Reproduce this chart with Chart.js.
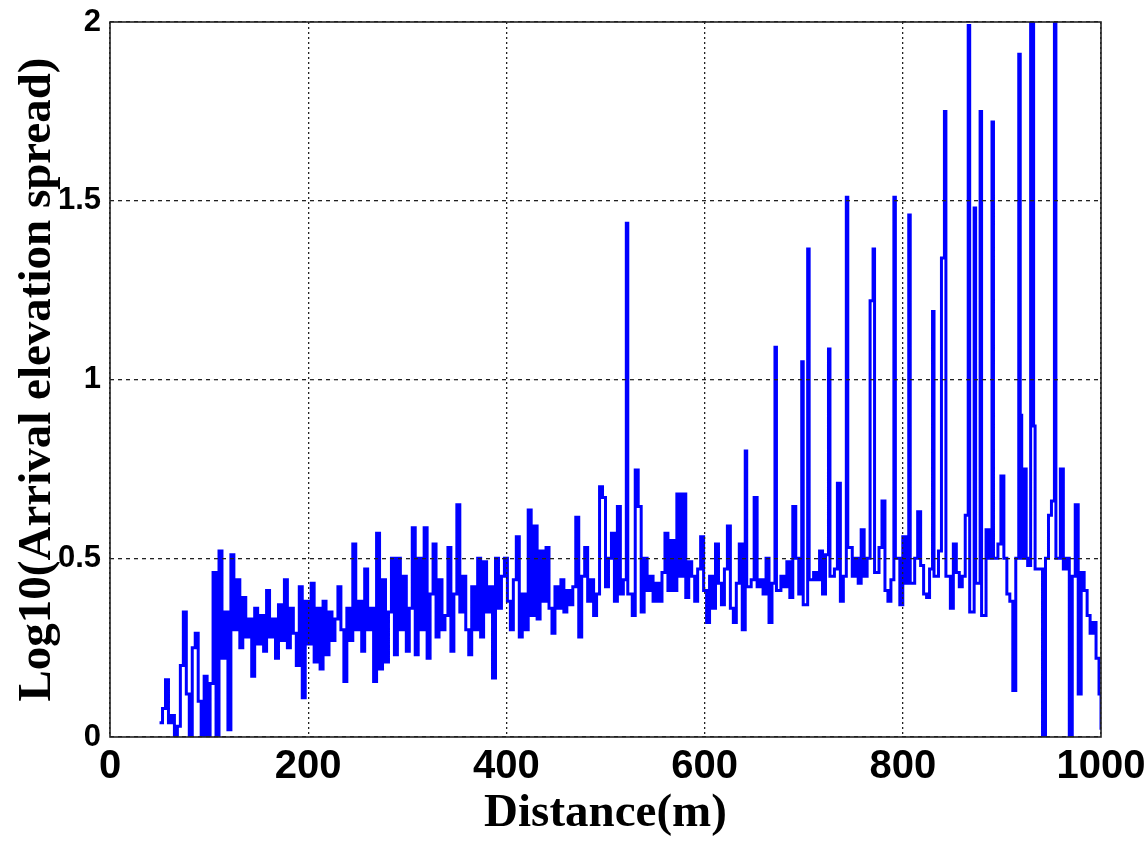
<!DOCTYPE html>
<html>
<head>
<meta charset="utf-8">
<title>Log10(Arrival elevation spread) vs Distance</title>
<script src="https://cdn.jsdelivr.net/npm/chart.js@4.4.1/dist/chart.umd.min.js"></script>
<style>
  html, body { margin: 0; padding: 0; background: #fff; }
  #wrap { width: 1147px; height: 843px; }
</style>
</head>
<body>
<div id="wrap"><canvas id="spreadChart" width="1147" height="843"></canvas></div>
<script>
// distance along the track (m); every 3 m, plus a short return after each tall spike
const distance = [
    50, 53, 56, 59, 62, 65, 68, 71, 74, 77,
    80, 83, 86, 89, 92, 95, 98, 101, 104, 107,
    110, 113, 116, 119, 122, 125, 128, 131, 134, 137,
    140, 143, 146, 149, 152, 155, 158, 161, 164, 167,
    170, 173, 176, 179, 182, 185, 188, 191, 194, 197,
    200, 203, 206, 209, 212, 215, 218, 221, 224, 227,
    230, 233, 236, 239, 242, 245, 248, 251, 254, 257,
    260, 263, 266, 269, 272, 275, 278, 281, 284, 287,
    290, 293, 296, 299, 302, 305, 308, 311, 314, 317,
    320, 323, 326, 329, 332, 335, 338, 341, 344, 347,
    350, 353, 356, 359, 362, 365, 368, 371, 374, 377,
    380, 383, 386, 389, 392, 395, 398, 401, 404, 407,
    410, 413, 416, 419, 422, 425, 428, 431, 434, 437,
    440, 443, 446, 449, 452, 455, 458, 461, 464, 467,
    470, 473, 476, 479, 482, 485, 488, 491, 494, 497,
    500, 503, 506, 509, 512, 515, 518, 521, 522.5, 524, 527,
    530, 533, 536, 539, 542, 545, 548, 551, 554, 557,
    560, 563, 566, 569, 572, 575, 578, 581, 584, 587,
    590, 593, 596, 599, 602, 605, 608, 611, 614, 617,
    620, 623, 626, 629, 632, 635, 638, 641, 642.5, 644, 647,
    650, 653, 656, 659, 662, 665, 668, 671, 672.5, 674, 677,
    680, 683, 686, 689, 692, 695, 698, 699.5, 701, 704, 705.5, 707,
    710, 713, 716, 719, 722, 725, 726.5, 728, 731, 734, 737,
    740, 743, 744.5, 746, 749, 752, 755, 758, 761, 764, 767,
    770, 771.5, 773, 776, 779, 782, 785, 788, 791, 792.5, 794, 797,
    800, 803, 806, 807.5, 809, 812, 815, 818, 821, 824, 827,
    830, 831.5, 833, 836, 839, 842, 843.5, 845, 848, 851, 854, 857,
    860, 863, 866, 867.5, 869, 872, 873.5, 875, 878, 879.5, 881, 884, 887,
    890, 891.5, 893, 896, 899, 902, 905, 908, 911, 914, 917, 918.5,
    920, 923, 924.5, 926, 929, 932, 933.5, 935, 938, 941, 944, 947,
    950, 953, 954.5, 956, 959, 962, 965, 968, 971, 974, 977,
    980, 983, 986, 989, 992, 995, 998, 1000
];

// log10 of arrival elevation spread
const spread = [
    0.04, 0.08, 0.16, 0.04, 0.06, 0.0, 0.03, 0.2, 0.35, 0.12,
    0.0, 0.25, 0.29, 0.1, 0.0, 0.17, 0.0, 0.15, 0.46, 0.0,
    0.52, 0.22, 0.35, 0.02, 0.51, 0.3, 0.44, 0.25, 0.39, 0.28,
    0.33, 0.17, 0.36, 0.26, 0.34, 0.24, 0.41, 0.28, 0.33, 0.22,
    0.37, 0.27, 0.44, 0.25, 0.36, 0.29, 0.2, 0.42, 0.11, 0.38,
    0.26, 0.43, 0.21, 0.36, 0.19, 0.38, 0.23, 0.35, 0.27, 0.33,
    0.42, 0.3, 0.155, 0.36, 0.27, 0.54, 0.3, 0.38, 0.24, 0.47,
    0.3, 0.36, 0.155, 0.57, 0.19, 0.44, 0.21, 0.35, 0.5, 0.23,
    0.5, 0.3, 0.45, 0.24, 0.36, 0.585, 0.23, 0.5, 0.3, 0.585,
    0.22, 0.4, 0.54, 0.28, 0.44, 0.3, 0.34, 0.53, 0.24, 0.4,
    0.65, 0.35, 0.45, 0.3, 0.23, 0.42, 0.3, 0.5, 0.28, 0.49,
    0.35, 0.42, 0.165, 0.5, 0.36, 0.45, 0.5, 0.38, 0.3, 0.44,
    0.56, 0.28, 0.4, 0.3, 0.635, 0.34, 0.59, 0.33, 0.52, 0.38,
    0.53, 0.36, 0.29, 0.42, 0.36, 0.44, 0.35, 0.41, 0.37, 0.42,
    0.615, 0.28, 0.45, 0.53, 0.38, 0.44, 0.34, 0.4, 0.7, 0.67,
    0.42, 0.5, 0.57, 0.38, 0.645, 0.4, 0.44, 1.437, 0.4, 0.4, 0.34,
    0.747, 0.645, 0.35, 0.5, 0.41, 0.45, 0.38, 0.43, 0.38, 0.46,
    0.57, 0.41, 0.55, 0.41, 0.68, 0.45, 0.68, 0.39, 0.49, 0.45,
    0.38, 0.47, 0.56, 0.41, 0.32, 0.45, 0.36, 0.54, 0.43, 0.37,
    0.47, 0.59, 0.36, 0.32, 0.43, 0.54, 0.3, 0.8, 0.42, 0.42, 0.44,
    0.67, 0.42, 0.44, 0.4, 0.5, 0.32, 0.43, 1.09, 0.41, 0.41, 0.45,
    0.42, 0.49, 0.39, 0.645, 0.5, 0.4, 1.05, 0.37, 0.37, 1.365, 0.44, 0.44,
    0.46, 0.44, 0.52, 0.4, 0.51, 1.085, 0.45, 0.45, 0.47, 0.71, 0.38,
    0.45, 1.51, 0.53, 0.53, 0.45, 0.5, 0.43, 0.58, 0.45, 0.5, 1.22,
    1.365, 0.46, 0.46, 0.53, 0.66, 0.41, 0.38, 0.44, 1.51, 0.5, 0.5, 0.37,
    0.56, 0.43, 1.46, 0.43, 0.43, 0.5, 0.63, 0.48, 0.4, 0.39, 0.47,
    1.19, 0.45, 0.45, 0.52, 1.34, 1.75, 0.45, 0.45, 0.36, 0.54, 0.46, 0.42,
    0.45, 0.62, 1.99, 0.35, 0.35, 1.48, 0.43, 0.43, 1.75, 0.34, 0.34, 0.58, 0.5,
    1.72, 0.5, 0.5, 0.54, 0.73, 0.5, 0.4, 0.38, 0.13, 0.5, 1.91, 0.9,
    0.5, 0.75, 0.5, 0.48, 2.05, 0.87, 0.47, 0.47, 0.47, 0.0, 0.5, 0.62,
    0.66, 2.05, 0.5, 0.5, 0.75, 0.47, 0.5, 0.0, 0.45, 0.65, 0.12,
    0.46, 0.41, 0.34, 0.29, 0.32, 0.22, 0.12, 0.02
];

const xTicks = [0, 200, 400, 600, 800, 1000];
const yTicks = [0, 0.5, 1, 1.5, 2];

const points = distance.map((d, i) => ({ x: d, y: spread[i] }));

// MATLAB style box round the plot area
const frameBox = {
    id: 'frameBox',
    afterDraw(chart) {
        const { ctx, chartArea: a } = chart;
        ctx.save();
        ctx.strokeStyle = '#222';
        ctx.lineWidth = 1.6;
        ctx.setLineDash([]);
        ctx.strokeRect(a.left, a.top, a.right - a.left, a.bottom - a.top);
        ctx.restore();
    }
};

new Chart(document.getElementById('spreadChart'), {
    type: 'line',
    data: {
        datasets: [{
            data: points,
            borderColor: '#0000ff',
            borderWidth: 3,
            pointRadius: 0,
            stepped: true,
            spanGaps: false,
            tension: 0
        }]
    },
    options: {
        responsive: false,
        animation: false,
        layout: { padding: { left: 0, right: 46, top: 22, bottom: 0 } },
        plugins: { legend: { display: false }, tooltip: { enabled: false } },
        scales: {
            x: {
                type: 'linear',
                min: 0,
                max: 1000,
                afterFit: s => { s.height = 106; s.paddingLeft = 0; s.paddingRight = 0; },
                afterBuildTicks: s => { s.ticks = xTicks.map(v => ({ value: v })); },
                ticks: {
                    padding: 6,
                    maxRotation: 0,
                    color: '#000',
                    font: { family: "'Liberation Sans', Arial, sans-serif", size: 40, weight: 'bold' },
                    callback: v => String(v)
                },
                grid: { color: '#222', lineWidth: 1.3, drawTicks: false, z: 1 },
                border: { display: false, dash: [2, 3] },
                title: {
                    display: true,
                    text: 'Distance(m)',
                    color: '#000',
                    font: { family: "'Liberation Serif', serif", size: 47, weight: 'bold', lineHeight: 1.2 },
                    padding: { top: 0, bottom: 1 }
                }
            },
            y: {
                min: 0,
                max: 2,
                afterFit: s => { s.width = 110; s.paddingTop = 0; s.paddingBottom = 0; },
                afterBuildTicks: s => { s.ticks = yTicks.map(v => ({ value: v })); },
                ticks: {
                    padding: 9,
                    color: '#000',
                    font: { family: "'Liberation Sans', Arial, sans-serif", size: 31, weight: 'bold' },
                    callback: v => String(v)
                },
                grid: { color: '#222', lineWidth: 1.3, drawTicks: false, z: 1 },
                border: { display: false, dash: [4, 4] },
                title: {
                    display: true,
                    text: 'Log10(Arrival elevation spread)',
                    color: '#000',
                    font: { family: "'Liberation Serif', serif", size: 47, weight: 'bold', lineHeight: 1.2 },
                    padding: { top: 10, bottom: 0 }
                }
            }
        }
    },
    plugins: [frameBox]
});
</script>
</body>
</html>
